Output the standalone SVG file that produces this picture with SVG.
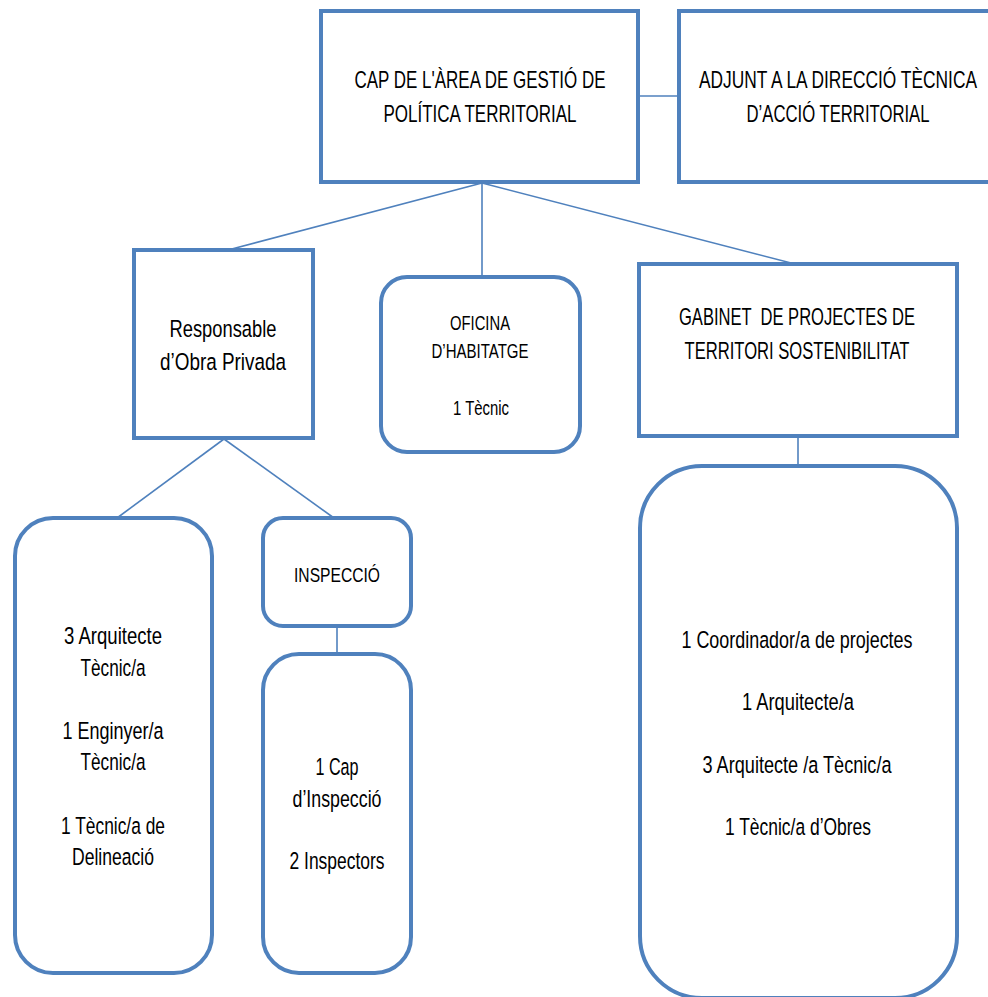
<svg xmlns="http://www.w3.org/2000/svg" width="988" height="997" viewBox="0 0 988 997">
<style>
.box{fill:#fff;stroke:#4F81BD;stroke-width:4}
.ln{stroke:#4F81BD;stroke-width:1.6;fill:none}
text{font-family:"Liberation Sans Narrow","Liberation Sans",Arial,sans-serif;font-size:24.5px;fill:#000;text-anchor:middle}
.s{font-size:21px}
</style>
<rect width="988" height="997" fill="#fff"/>
<g id="connectors">
<line class="ln" x1="638" y1="96" x2="679" y2="96"/>
<line class="ln" x1="482" y1="183" x2="228" y2="250"/>
<line class="ln" x1="482" y1="183" x2="482" y2="277"/>
<line class="ln" x1="482" y1="183" x2="795" y2="264"/>
<line class="ln" x1="798" y1="436" x2="798" y2="466"/>
<line class="ln" x1="224" y1="439" x2="117" y2="518"/>
<line class="ln" x1="224" y1="439" x2="334" y2="518"/>
<line class="ln" x1="337" y1="626" x2="337" y2="654"/>
</g>
<g id="cap">
<rect class="box" x="321" y="11" width="317" height="171"/>
<text x="480" y="88" textLength="251" lengthAdjust="spacingAndGlyphs">CAP DE L'ÀREA DE GESTIÓ DE</text>
<text x="480" y="122" textLength="193" lengthAdjust="spacingAndGlyphs">POLÍTICA TERRITORIAL</text>
</g>
<g id="adjunt">
<rect class="box" x="679" y="11" width="320" height="171"/>
<text x="838" y="88" textLength="278" lengthAdjust="spacingAndGlyphs">ADJUNT A LA DIRECCIÓ TÈCNICA</text>
<text x="838" y="122" textLength="183" lengthAdjust="spacingAndGlyphs">D’ACCIÓ TERRITORIAL</text>
</g>
<g id="responsable">
<rect class="box" x="134" y="250" width="179" height="188"/>
<text x="223" y="337" textLength="107" lengthAdjust="spacingAndGlyphs">Responsable</text>
<text x="223" y="370" textLength="126" lengthAdjust="spacingAndGlyphs">d’Obra Privada</text>
</g>
<g id="oficina">
<rect class="box" x="381" y="277" width="199" height="175" rx="26"/>
<text class="s" x="480" y="330" textLength="60" lengthAdjust="spacingAndGlyphs">OFICINA</text>
<text class="s" x="480" y="358" textLength="97" lengthAdjust="spacingAndGlyphs">D’HABITATGE</text>
<text class="s" x="481" y="415" textLength="56" lengthAdjust="spacingAndGlyphs">1 Tècnic</text>
</g>
<g id="gabinet">
<rect class="box" x="639" y="264" width="318" height="172"/>
<text x="797" y="325" textLength="236" lengthAdjust="spacingAndGlyphs" xml:space="preserve">GABINET  DE PROJECTES DE</text>
<text x="797" y="359" textLength="225" lengthAdjust="spacingAndGlyphs">TERRITORI SOSTENIBILITAT</text>
</g>
<g id="tecnics-obra">
<rect class="box" x="15" y="518" width="197" height="455" rx="38"/>
<text x="113" y="644" textLength="98" lengthAdjust="spacingAndGlyphs">3 Arquitecte</text>
<text x="113" y="676" textLength="65" lengthAdjust="spacingAndGlyphs">Tècnic/a</text>
<text x="113" y="739" textLength="101" lengthAdjust="spacingAndGlyphs">1 Enginyer/a</text>
<text x="113" y="770" textLength="65" lengthAdjust="spacingAndGlyphs">Tècnic/a</text>
<text x="113" y="834" textLength="104" lengthAdjust="spacingAndGlyphs">1 Tècnic/a de</text>
<text x="113" y="865" textLength="82" lengthAdjust="spacingAndGlyphs">Delineació</text>
</g>
<g id="inspeccio">
<rect class="box" x="263" y="518" width="148" height="108" rx="20"/>
<text class="s" x="337" y="582" textLength="86" lengthAdjust="spacingAndGlyphs">INSPECCIÓ</text>
</g>
<g id="inspectors">
<rect class="box" x="263" y="654" width="148" height="319" rx="36"/>
<text x="337" y="775" textLength="43" lengthAdjust="spacingAndGlyphs">1 Cap</text>
<text x="337" y="807" textLength="89" lengthAdjust="spacingAndGlyphs">d’Inspecció</text>
<text x="337" y="869" textLength="95" lengthAdjust="spacingAndGlyphs">2 Inspectors</text>
</g>
<g id="projectes">
<rect class="box" x="640" y="466" width="317" height="532" rx="62"/>
<text x="797" y="648" textLength="231" lengthAdjust="spacingAndGlyphs">1 Coordinador/a de projectes</text>
<text x="798" y="710" textLength="112" lengthAdjust="spacingAndGlyphs">1 Arquitecte/a</text>
<text x="797" y="773" textLength="189" lengthAdjust="spacingAndGlyphs">3 Arquitecte /a Tècnic/a</text>
<text x="798" y="835" textLength="146" lengthAdjust="spacingAndGlyphs">1 Tècnic/a d’Obres</text>
</g>
</svg>
